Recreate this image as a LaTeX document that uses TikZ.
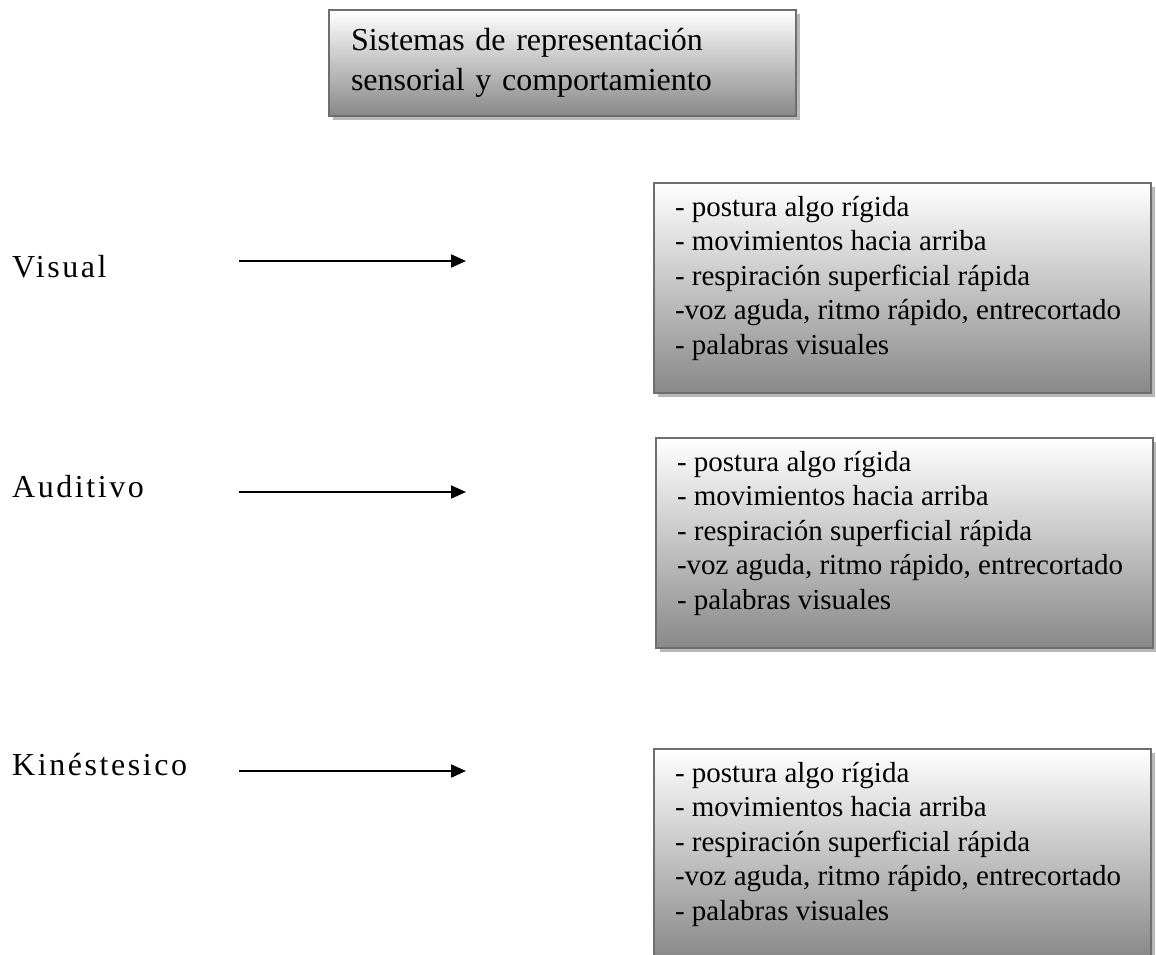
\documentclass[tikz,border=0pt]{standalone}
\usepackage{fontspec}
\setmainfont{Liberation Serif}
\newfontfamily\etiquetafont[LetterSpace=8]{Liberation Serif}
\usetikzlibrary{arrows.meta,shadows}
\definecolor{bordegris}{HTML}{6E6E6E}
\definecolor{sombragris}{HTML}{B8B8B8}
\definecolor{fondogris}{HTML}{888888}
\newcommand{\rasgos}{\parbox[c][184pt][t]{455pt}{\fontsize{29pt}{34.5pt}\selectfont
- postura algo rígida\\
- movimientos hacia arriba\\
- respiración superficial rápida\\
-voz aguda, ritmo rápido, entrecortado\\
- palabras visuales}}

\begin{document}
\begin{tikzpicture}[
    x=1pt, y=-1pt,
    >={Triangle[length=15pt, width=13pt]},
    flecha/.style={->, line width=2pt},
    etiqueta/.style={font=\etiquetafont\fontsize{32pt}{38pt}\selectfont, inner sep=0pt, anchor=base west},
    caja/.style={ draw=bordegris,
                  line width=2pt,
                  top color=white,
                  bottom color=fondogris,
                  drop shadow={shadow xshift=3.5pt, shadow yshift=-3.5pt, fill=sombragris, opacity=1},
                  anchor=north west},
    rasgobox/.style={caja, minimum width=497pt, minimum height=210pt, inner xsep=21pt, inner ysep=12pt}]

    \path[use as bounding box] (0,0) rectangle (1156,954);
    \clip (0,0) rectangle (1156,954);

    \node[caja, minimum width=467pt, minimum height=106pt, inner xsep=22pt, text width=423pt, align=left,
          font=\fontsize{32pt}{40pt}\selectfont] (titulo) at (328,9)
          {Sistemas de representación\\sensorial y comportamiento};

    \node[etiqueta] (visual) at (12,277) {Visual};
    \node[etiqueta] (auditivo) at (12,497) {Auditivo};
    \node[etiqueta] (kinestesico) at (12,775) {Kinéstesico};

    \node[rasgobox] (rvisual) at (653,182) {\rasgos};
    \node[rasgobox] (rauditivo) at (655,437) {\rasgos};
    \node[rasgobox] (rkinestesico) at (653,748) {\rasgos};

    \coordinate (va) at (239,261);
    \coordinate (vb) at (466,261);
    \coordinate (aa) at (239,492);
    \coordinate (ab) at (466,492);
    \coordinate (ka) at (239,771);
    \coordinate (kb) at (466,771);

    \draw[flecha] (va) -- (vb);
    \draw[flecha] (aa) -- (ab);
    \draw[flecha] (ka) -- (kb);

\end{tikzpicture}
\end{document}
